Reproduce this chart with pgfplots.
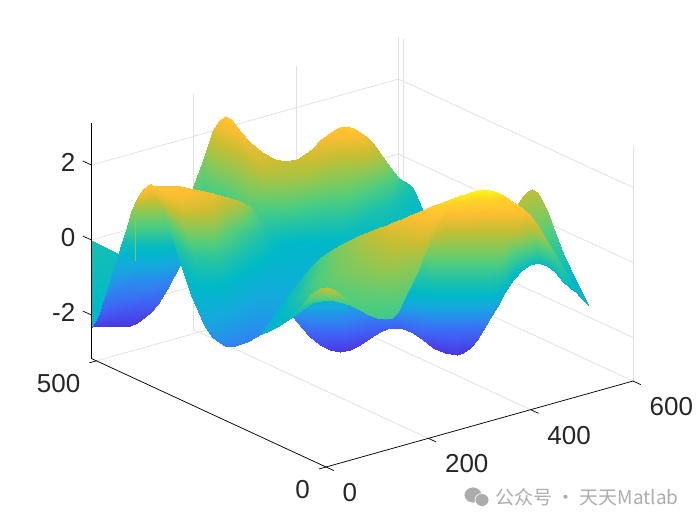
\documentclass[border=0pt]{standalone}
\usepackage{fontspec}
\setmainfont{Liberation Sans}
\newfontfamily\cjk{Noto Sans CJK SC}
\usepackage{pgfplots}
\pgfplotsset{compat=1.18}
\definecolor{ticktext}{RGB}{38,38,38}
\definecolor{gridgray}{RGB}{226,226,226}
\definecolor{markgray}{RGB}{172,172,172}
% every sample: column p, row q and the height c given by its colour
\pgfplotsset{
  /pgfplots/table/pix/.style={
    row sep=\\,
    x expr={1.2173*(\thisrow{p}-326)+2.6317*(467-\thisrow{q}-(\thisrow{c}+3.16)*37.5)},
    y expr={2.9339*(467-\thisrow{q}-(\thisrow{c}+3.16)*37.5)-0.8216*(\thisrow{p}-326)},
    z expr={\thisrow{c}}},
  sheet/.style={surf,shader=interp,z buffer=default,point meta=z,mesh/cols=#1},
  colormap={bands}{
    rgb255(0pt)=(75,55,225); rgb255(6pt)=(65,95,245); rgb255(13pt)=(45,135,240);
    rgb255(20pt)=(20,170,220); rgb255(26pt)=(0,185,200); rgb255(32pt)=(35,195,165);
    rgb255(38pt)=(80,205,125); rgb255(43pt)=(140,200,85); rgb255(48pt)=(200,190,50);
    rgb255(53pt)=(255,190,50); rgb255(57pt)=(255,210,40); rgb255(60pt)=(250,250,20)},
}
\begin{document}
\begin{tikzpicture}
\useasboundingbox (0,0) rectangle (700pt,525pt);
\begin{axis}[
  at={(326pt,176.5pt)},anchor=origin,
  x={(0.5117pt,0.1433pt)},y={(-0.459pt,0.2123pt)},z={(0pt,37.5pt)},
  xmin=0,xmax=600,ymin=0,ymax=511,zmin=-3.16,zmax=3.12,
  xtick={0,200,400,600},xticklabels={0,200,400,600},
  ytick={0,500},yticklabels={0,500},
  ztick={-2,0,2},zticklabels={-2,0,2},
  grid=major,grid style={gridgray,line width=0.8pt},
  axis line style={draw=none},
  major tick length=0pt,
  tick label style={font=\fontsize{26}{30}\selectfont,text=ticktext,inner sep=0pt},
  xticklabel style={anchor=north west,xshift=16.5pt,yshift=-16pt},
  yticklabel style={anchor=north east,xshift=-16pt,yshift=-13pt},
  zticklabel style={anchor=east,xshift=-16pt,yshift=2.5pt},
  colormap name=bands,point meta min=-3,point meta max=3,
  clip=false,
]
% left teal piece
\addplot3[sheet=2] table[pix]{p q c\\
91 240 0\\ 91 327 -0.5\\
135 262 -0.3\\ 135 320 -0.5\\};
% back mass, columns
\addplot3[sheet=5] table[pix]{p q c\\
193 187 1.0\\ 193 189 .95\\ 193 191 .9\\ 193 193 .85\\ 193 195 .8\\
203 160 1.2\\ 203 170 1.0\\ 203 180 .85\\ 203 195 .6\\ 203 210 .3\\
213 130 2.0\\ 213 150 1.6\\ 213 170 1.2\\ 213 195 .7\\ 213 225 0\\
219 121 2.3\\ 219 150 1.65\\ 219 175 1.15\\ 219 200 .6\\ 219 237 -.25\\
225 116 2.5\\ 225 150 1.7\\ 225 180 1.1\\ 225 210 .4\\ 225 250 -.5\\
231 119 2.45\\ 231 152 1.72\\ 231 182 1.1\\ 231 215 .4\\ 231 255 -.55\\
240 131 2.3\\ 240 155 1.75\\ 240 185 1.15\\ 240 220 .45\\ 240 260 -.6\\
250 142 2.15\\ 250 160 1.8\\ 250 190 1.2\\ 250 225 .45\\ 250 300 -1.3\\
262 152 2.0\\ 262 167 1.8\\ 262 200 1.0\\ 262 245 -.2\\ 262 334 -1.6\\
275 159 1.85\\ 275 175 1.6\\ 275 205 .85\\ 275 243 -.3\\ 275 318 -1.3\\
285 161 1.75\\ 285 175 1.6\\ 285 205 .85\\ 285 243 -.4\\ 285 305 -1.1\\
297 159 1.8\\ 297 175 1.6\\ 297 203 .85\\ 297 242 -.4\\ 297 292 -.9\\
305 154 1.9\\ 305 172 1.62\\ 305 201 .85\\ 305 241 -.4\\ 305 282 -.8\\
313 148 2.05\\ 313 168 1.68\\ 313 200 .85\\ 313 241 -.4\\ 313 272 -.7\\
320 140 2.2\\ 320 163 1.72\\ 320 199 .85\\ 320 240 -.4\\ 320 265 -.65\\
327 135 2.3\\ 327 160 1.75\\ 327 198 .85\\ 327 240 -.4\\ 327 258 -.6\\
334 130 2.4\\ 334 158 1.75\\ 334 197 .85\\ 334 239 -.38\\ 334 254 -.55\\
340 127 2.5\\ 340 157 1.75\\ 340 197 .85\\ 340 238 -.35\\ 340 252 -.5\\
348 126 2.55\\ 348 157 1.75\\ 348 196 .85\\ 348 235 -.3\\ 348 249 -.45\\
355 129 2.45\\ 355 158 1.7\\ 355 195 .8\\ 355 230 -.25\\ 355 245 -.4\\
360 132 2.35\\ 360 158 1.7\\ 360 193 .8\\ 360 226 -.2\\ 360 243 -.38\\
367 137 2.2\\ 367 160 1.65\\ 367 190 .8\\ 367 220 -.1\\ 367 240 -.35\\
373 143 1.95\\ 373 162 1.5\\ 373 189 .75\\ 373 216 -.05\\ 373 238 -.33\\
380 153 1.65\\ 380 168 1.3\\ 380 188 .7\\ 380 212 0\\ 380 235 -.3\\
387 163 1.25\\ 387 174 1.0\\ 387 189 .55\\ 387 210 0\\ 387 231 -.3\\
393 171 .95\\ 393 179 .75\\ 393 190 .42\\ 393 208 -.05\\ 393 228 -.3\\
399 178 .55\\ 399 184 .38\\ 399 193 .12\\ 399 205 -.1\\ 399 226 -.3\\
404 181 .32\\ 404 187 .2\\ 404 194 .05\\ 404 205 -.15\\ 404 223 -.33\\
409 183.5 .15\\ 409 188 .05\\ 409 195 -.05\\ 409 206 -.25\\ 409 220 -.36\\
413 188 0\\ 413 192 -.08\\ 413 198 -.18\\ 413 207 -.3\\ 413 218 -.4\\
417 197 -.2\\ 417 200 -.25\\ 417 204 -.3\\ 417 209 -.38\\ 417 216 -.45\\
420 204 -.35\\ 420 206 -.38\\ 420 208 -.42\\ 420 211 -.46\\ 420 214 -.5\\
423 212 -.5\\ 423 212.5 -.5\\ 423 213 -.5\\ 423 213.5 -.5\\ 423 214 -.5\\};
% left hill, contours
\addplot3[sheet=4] table[pix]{p q c\\
92 327 -3.0\\ 113 325.5 -3.0\\ 130 325.5 -3.0\\ 137 323 -3.0\\
96 322 -2.7\\ 114 318 -2.7\\ 135 316 -2.7\\ 150 313 -2.7\\
100 313 -2.4\\ 118 308 -2.4\\ 140 304 -2.4\\ 158 304 -2.4\\
104 300 -2.0\\ 125 296 -2.0\\ 150 293 -2.0\\ 167 289 -2.0\\
108 288 -1.6\\ 135 280 -1.6\\ 155 280 -1.6\\ 174 276 -1.6\\
116 262 -.9\\ 140 262 -.9\\ 160 262 -.9\\ 183 259 -.9\\
121 245 -.2\\ 150 245 -.2\\ 165 245 -.2\\ 178 243 -.2\\
126 230 .6\\ 150 230 .6\\ 162 230 .6\\ 173 228 .6\\
131 212 1.3\\ 150 212 1.3\\ 158 212 1.3\\ 167 210 1.3\\
137 198 2.0\\ 150 196 2.0\\ 155 195 2.0\\ 160 195 2.0\\
143 189 2.3\\ 147 187 2.35\\ 150 187 2.35\\ 154 190 2.3\\
148 184.5 2.45\\ 150 184 2.45\\ 151 184 2.45\\ 152 185 2.45\\};
% thin seam on the hill
\addplot3[sheet=2] table[pix]{p q c\\
135 205 1.3\\ 136 205 1.3\\
135 261 1.1\\ 136 261 1.1\\};
% flap in front of the hill
\addplot3[sheet=5] table[pix]{p q c\\
148 184.5 2.45\\ 180 186 2.4\\ 213 193 2.1\\ 240 201 1.75\\ 252 207 .95\\
153 189 2.3\\ 180 193 2.3\\ 213 200 2.0\\ 240 208 1.45\\ 255 212 .85\\
157 195 2.1\\ 180 203 2.1\\ 213 209 1.85\\ 240 216 1.2\\ 258 217 .7\\
163 213 1.2\\ 185 228 1.3\\ 213 235 1.1\\ 243 235 .5\\ 265 232 .15\\
174 243 .2\\ 195 258 .3\\ 220 262 .2\\ 250 258 -.15\\ 272 258 -.5\\
180.5 262 -.2\\ 198 278 -.2\\ 222 285 -.4\\ 250 280 -.65\\ 275 275 -.75\\
191 295 -.7\\ 205 305 -.7\\ 228 312 -1.0\\ 252 305 -1.1\\ 272 298 -1.05\\
204 325 -1.2\\ 215 332 -1.3\\ 232 335 -1.5\\ 250 328 -1.5\\ 268 318 -1.35\\
212 337 -1.5\\ 222 342 -1.65\\ 234 344 -1.75\\ 250 337 -1.7\\ 265 327 -1.5\\
220 343 -1.7\\ 225 345.5 -1.8\\ 232 346.5 -1.9\\ 247 342 -1.9\\ 263 333 -1.6\\};
% right peak
\addplot3[sheet=2] table[pix]{p q c\\
517 205 1.6\\ 522 215 1.5\\
523 196 1.65\\ 530 220 1.3\\
528 191 1.7\\ 533 222 1.2\\
532 189 1.7\\ 535 222 1.1\\
537 192 1.65\\ 538 228 1.05\\
542 200 1.55\\ 542 235 .9\\
548 213 1.25\\ 548 245 .5\\
553 227 .9\\ 555 257 .1\\
558 240 .5\\ 561 268 -.1\\
563 253 .15\\ 567 280 -.4\\
570 268 -.3\\ 574 290 -.6\\
577 283 -.6\\ 581 298 -.8\\
588 305 -1\\ 588 305 -1\\};
% big lower sheet
\addplot3[sheet=7] table[pix]{p q c\\
293 305 -.9\\ 293 307 -1.0\\ 293 309 -1.1\\ 293 311 -1.3\\ 293 313 -1.4\\ 293 315 -1.5\\ 293 317 -1.6\\
302 300 -.6\\ 302 304 -.85\\ 302 308 -1.1\\ 302 312 -1.4\\ 302 317 -1.6\\ 302 322 -1.9\\ 302 328 -2.2\\
310 295 -.4\\ 310 300 -.7\\ 310 305 -.9\\ 310 310 -1.2\\ 310 320 -1.7\\ 310 330 -2.2\\ 310 337 -2.5\\
320 290 -.3\\ 320 297 -.5\\ 320 305 -.9\\ 320 310 -1.2\\ 320 320 -1.7\\ 320 333 -2.3\\ 320 345 -2.75\\
330 290 -.3\\ 330 297 -.5\\ 330 305 -.9\\ 330 310 -1.2\\ 330 320 -1.7\\ 330 335 -2.4\\ 330 350 -2.9\\
340 290 -.3\\ 340 297 -.5\\ 340 305 -.9\\ 340 310 -1.2\\ 340 320 -1.7\\ 340 335 -2.4\\ 340 352 -3.0\\
350 290 -.3\\ 350 297 -.5\\ 350 305 -1.0\\ 350 311 -1.35\\ 350 320 -1.8\\ 350 334 -2.4\\ 350 350 -2.95\\
360 290 -.3\\ 360 297 -.5\\ 360 305 -1.1\\ 360 312 -1.5\\ 360 320 -1.9\\ 360 332 -2.4\\ 360 345 -2.9\\
370 290 -.3\\ 370 297 -.55\\ 370 305 -1.1\\ 370 312 -1.55\\ 370 319 -1.9\\ 370 329 -2.35\\ 370 338 -2.7\\
380 290 -.3\\ 380 297 -.6\\ 380 305 -1.1\\ 380 312 -1.6\\ 380 318 -1.9\\ 380 325 -2.2\\ 380 332 -2.5\\
387 290 -.3\\ 387 297 -.6\\ 387 305 -1.1\\ 387 311 -1.5\\ 387 318 -1.9\\ 387 324 -2.2\\ 387 329 -2.45\\
395 290 -.3\\ 395 297 -.6\\ 395 305 -1.1\\ 395 310 -1.4\\ 395 318 -1.9\\ 395 323 -2.2\\ 395 328 -2.4\\
403 285 -.1\\ 403 295 -.5\\ 403 303 -1.0\\ 403 310 -1.35\\ 403 318 -1.85\\ 403 324 -2.15\\ 403 329 -2.4\\
413 265 .6\\ 413 282 0\\ 413 297 -.6\\ 413 310 -1.3\\ 413 318 -1.8\\ 413 326 -2.1\\ 413 333 -2.45\\
423 240 1.5\\ 423 270 .45\\ 423 296 -.5\\ 423 310 -1.25\\ 423 320 -1.75\\ 423 331 -2.25\\ 423 340 -2.6\\
433 222 2.15\\ 433 260 .9\\ 433 295 -.4\\ 433 310 -1.2\\ 433 320 -1.7\\ 433 335 -2.4\\ 433 348 -2.9\\
445 205 2.55\\ 445 233 1.7\\ 445 260 .9\\ 445 295 -.4\\ 445 310 -1.2\\ 445 330 -2.2\\ 445 353 -3.0\\
451 201 2.7\\ 451 233 1.7\\ 451 260 .9\\ 451 295 -.4\\ 451 310 -1.2\\ 451 330 -2.2\\ 451 354 -3.0\\
457 197 2.85\\ 457 233 1.7\\ 457 260 .9\\ 457 295 -.4\\ 457 310 -1.2\\ 457 330 -2.2\\ 457 355 -3.0\\
463 195 2.9\\ 463 233 1.7\\ 463 260 .9\\ 463 295 -.4\\ 463 310 -1.2\\ 463 330 -2.2\\ 463 353 -3.0\\
470 192 2.95\\ 470 233 1.7\\ 470 260 .9\\ 470 295 -.4\\ 470 310 -1.2\\ 470 330 -2.2\\ 470 348 -2.85\\
477 190 2.98\\ 477 233 1.7\\ 477 260 .9\\ 477 295 -.4\\ 477 310 -1.2\\ 477 325 -2.0\\ 477 340 -2.6\\
483 189 3.0\\ 483 233 1.7\\ 483 260 .9\\ 483 295 -.4\\ 483 310 -1.2\\ 483 322 -1.8\\ 483 330 -2.2\\
490 190.5 3.0\\ 490 233 1.7\\ 490 260 .9\\ 490 290 -.2\\ 490 303 -.85\\ 490 311 -1.25\\ 490 318 -1.6\\
497 192.5 2.9\\ 497 233 1.7\\ 497 260 .9\\ 497 285 -.1\\ 497 295 -.5\\ 497 301 -.9\\ 497 307 -1.3\\
505 196 2.75\\ 505 233 1.7\\ 505 255 1.0\\ 505 270 .4\\ 505 280 0\\ 505 286 -.3\\ 505 292 -.7\\
513 202 2.6\\ 513 233 1.7\\ 513 250 .95\\ 513 262 .4\\ 513 270 -.05\\ 513 275 -.3\\ 513 280 -.6\\
522 208 2.45\\ 522 233 1.65\\ 522 247 1.0\\ 522 256 .55\\ 522 262 .2\\ 522 266 -.05\\ 522 270 -.45\\
530 215 2.25\\ 530 233 1.5\\ 530 243 1.05\\ 530 251 .65\\ 530 257 .3\\ 530 261 0\\ 530 265 -.35\\
538 226 1.9\\ 538 235 1.4\\ 538 243 1.0\\ 538 250 .6\\ 538 255 .3\\ 538 259 0\\ 538 263 -.3\\
547 241 1.3\\ 547 246 1.05\\ 547 251 .75\\ 547 255 .5\\ 547 259 .25\\ 547 263 0\\ 547 266 -.3\\
555 254 .75\\ 555 257 .6\\ 555 260 .45\\ 555 263 .3\\ 555 266 .1\\ 555 269 -.1\\ 555 272 -.35\\
563 268 .3\\ 563 270 .25\\ 563 272 .15\\ 563 275 .05\\ 563 277 -.05\\ 563 280 -.2\\ 563 282 -.4\\
570 280 -.1\\ 570 281 -.15\\ 570 283 -.25\\ 570 284 -.3\\ 570 285 -.35\\ 570 287 -.45\\ 570 288 -.55\\
577 290 -.5\\ 577 290.5 -.55\\ 577 291 -.6\\ 577 291.5 -.65\\ 577 292 -.7\\ 577 292.5 -.7\\ 577 293 -.75\\
588 305 -1\\ 588 305 -1\\ 588 305 -1\\ 588 305 -1\\ 588 305 -1\\ 588 305 -1\\ 588 305 -1\\};
% ribbon running up to the yellow crest
\addplot3[sheet=3] table[pix]{p q c\\
262 332 -1.0\\ 262 333 -1.0\\ 262 334 -1.0\\
271 319 -.7\\ 270 325 -.7\\ 269 331 -.8\\
280 307 -.5\\ 279 317 -.4\\ 277 327 -.6\\
290 293 -.2\\ 287 307 -.2\\ 285 322 -.4\\
300 280 0\\ 297 298 .1\\ 292 317 -.3\\
310 268 .35\\ 307 289 .45\\ 302 310 .05\\
320 258 .7\\ 318 280 .8\\ 312 303 .4\\
330 251 1.0\\ 328 275 .95\\ 325 300 .7\\
340 245 1.2\\ 338 272 1.1\\ 335 301 .8\\
350 240 1.4\\ 348 272 1.15\\ 350 305 .75\\
360 235 1.6\\ 358 272 1.2\\ 360 310 .7\\
370 231 1.75\\ 368 272 1.25\\ 369 315 .65\\
380 227 1.9\\ 378 272 1.3\\ 377 318 .6\\
387 224.5 2.0\\ 385 270 1.35\\ 385 319 .55\\
393 222 2.1\\ 392 268 1.4\\ 392 317.5 .55\\
398 220 2.15\\ 396 264 1.45\\ 397 313 .62\\
402 218.5 2.2\\ 399 260 1.5\\ 401 305 .72\\
410 215 2.3\\ 405 252 1.6\\ 407 292 .9\\
418 211.5 2.4\\ 414 246 1.75\\ 412 282 1.0\\
427 208 2.5\\ 422 240 1.9\\ 418 270 1.15\\
434 205 2.6\\ 430 230 2.05\\ 424 255 1.45\\
440 203 2.7\\ 437 222 2.2\\ 430 240 1.7\\
450 199 2.8\\ 446 208 2.6\\ 439 221 2.1\\
460 195 2.9\\ 455 198 2.8\\ 450 204 2.6\\
465 194 2.95\\ 462 195 2.9\\ 460 196 2.85\\};
% small sliver
\addplot3[sheet=2] table[pix]{p q c\\
290 317 -.2\\ 290 317 -.2\\
300 307 .3\\ 303 305 .2\\
310 295 1.1\\ 315 300 .7\\
320 288 1.6\\ 322 299 .8\\
327 287 1.9\\ 327 299 .85\\
335 290 1.6\\ 340 301 .8\\
347 300 1.0\\ 347 303 .7\\
360 310 .6\\ 360 310 .6\\};
% front axis lines and ticks
\draw[black,line width=0.7pt] (axis cs:0,0,-3.16)--(axis cs:600,0,-3.16);
\draw[black,line width=0.7pt] (axis cs:0,0,-3.16)--(axis cs:0,511,-3.16)--(axis cs:0,511,3.12);
\draw[black,line width=0.7pt] (axis cs:0,0,-3.16)--(axis cs:0,-17,-3.16);
\draw[black,line width=0.7pt] (axis cs:200,0,-3.16)--(axis cs:200,-17,-3.16);
\draw[black,line width=0.7pt] (axis cs:400,0,-3.16)--(axis cs:400,-17,-3.16);
\draw[black,line width=0.7pt] (axis cs:600,0,-3.16)--(axis cs:600,-17,-3.16);
\draw[black,line width=0.7pt] (axis cs:0,0,-3.16)--(axis cs:-14,0,-3.16);
\draw[black,line width=0.7pt] (axis cs:0,500,-3.16)--(axis cs:-14,500,-3.16);
\draw[black,line width=0.7pt] (axis cs:0,511,-2)--(axis cs:0,530,-2);
\draw[black,line width=0.7pt] (axis cs:0,511,0)--(axis cs:0,530,0);
\draw[black,line width=0.7pt] (axis cs:0,511,2)--(axis cs:0,530,2);
\end{axis}
% watermark
\fill[markgray,draw=white,line width=0.7pt] (473pt,30pt) ellipse (9pt and 8pt);
\fill[markgray,draw=white,line width=0.7pt] (482pt,25pt) ellipse (7pt and 6.5pt);
\node[anchor=west,inner sep=0pt,text=markgray] at (495pt,28pt)
  {\fontsize{19}{22}\selectfont\cjk 公众号 · 天天Matlab};
\end{tikzpicture}
\end{document}
